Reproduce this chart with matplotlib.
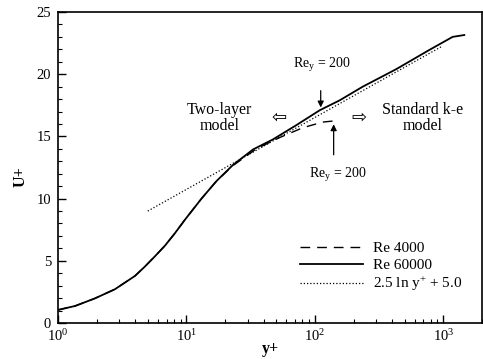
import matplotlib
matplotlib.use("Agg")
import matplotlib.pyplot as plt
from matplotlib.ticker import FixedLocator, LogLocator, NullFormatter, FixedFormatter

plt.rcParams['font.family'] = ['Liberation Serif', 'DejaVu Serif']
plt.rcParams['mathtext.fontset'] = 'custom'
plt.rcParams['mathtext.rm'] = 'Liberation Serif'
plt.rcParams['mathtext.it'] = 'Liberation Serif'

# Re 60000 (solid)
yp_60000 = [1.0, 1.36, 1.94, 2.77, 3.97, 4.74, 5.67, 6.78, 8.11, 9.7, 10.9, 13.1, 17.1,
            23.0, 33, 47, 71.6, 109, 156, 236, 429, 778, 1181, 1456]
u_60000 = [1.05, 1.37, 1.98, 2.71, 3.78, 4.53, 5.35, 6.2, 7.2, 8.28, 8.95, 10.0, 11.4,
           12.7, 13.95, 14.75, 15.9, 17.1, 17.9, 19.0, 20.4, 21.95, 23.0, 23.15]
# Re 4000 (dashed)
yp_4000 = [1.0, 1.36, 1.94, 2.77, 3.97, 4.74, 5.67, 6.78, 8.11, 9.7, 10.9, 13.1, 17.1,
           23.0, 35, 53, 80.6, 115, 146]
u_4000 = [1.05, 1.37, 1.98, 2.71, 3.78, 4.53, 5.35, 6.2, 7.2, 8.28, 8.95, 10.0, 11.4,
          12.65, 14.0, 14.9, 15.7, 16.15, 16.26]
# log law (dotted), endpoints
yp_log = [5.0, 960.0]
u_log = [9.0, 22.2]

x_ticks = [1, 10, 100, 1000]
x_labels = [r'$10^0$', r'$10^1$', r'$10^2$', r'$10^3$']
y_ticks = [0, 5, 10, 15, 20, 25]

fig = plt.figure(figsize=(4.83, 3.59), dpi=100)
ax = fig.add_axes([58/483, 1 - 323/359, (482-58)/483, (323-12)/359])

ax.plot(yp_60000, u_60000, color='black', lw=1.3, label='Re 60000', zorder=3)
ax.plot(yp_4000, u_4000, color='black', lw=1.0, ls=(0, (7, 5)), label='Re 4000', zorder=2)
ax.plot(yp_log, u_log, color='black', lw=0.9, ls=(0, (1, 1.6)), label=r'2.5 ln y$^{+}$ + 5.0', zorder=2)

ax.set_xscale('log')
ax.set_xlim(1, 2000)
ax.set_ylim(0, 25)
ax.xaxis.set_major_locator(FixedLocator(x_ticks))
ax.xaxis.set_major_formatter(FixedFormatter(x_labels))
ax.xaxis.set_minor_locator(LogLocator(base=10, subs=range(2, 10)))
ax.xaxis.set_minor_formatter(NullFormatter())
ax.yaxis.set_major_locator(FixedLocator(y_ticks))
ax.yaxis.set_minor_locator(FixedLocator(range(0, 26)))
ax.tick_params(which='major', direction='in', length=6, width=1.0, labelsize=10.5)
ax.tick_params(axis='y', which='major', pad=5)
ax.tick_params(which='minor', direction='in', length=3, width=0.8)
ax.tick_params(top=False, right=False, which='both')
for s in ax.spines.values():
    s.set_linewidth(1.2)

ax.set_xlabel('y+', fontsize=11.5, fontweight='bold', labelpad=-2)
ax.set_ylabel('U+', fontsize=11.5, fontweight='bold')
ax.yaxis.set_label_coords(-0.07, 0.47)

# annotations
ax.annotate('', xy=(111, 17.1), xytext=(111, 18.9),
            arrowprops=dict(arrowstyle='-|>', color='black', lw=0.9, mutation_scale=9))
ax.text(113, 20.7, r'Re$_y$ = 200', ha='center', va='center', fontsize=10)
ax.annotate('', xy=(140, 16.2), xytext=(140, 13.3),
            arrowprops=dict(arrowstyle='-|>', color='black', lw=0.9, mutation_scale=9))
ax.text(150, 11.9, r'Re$_y$ = 200', ha='center', va='center', fontsize=10)
ax.text(18.2, 16.5, 'Two-layer\nmodel', ha='center', va='center', fontsize=11.5, linespacing=1.0)
ax.text(690, 16.5, 'Standard k-e\nmodel', ha='center', va='center', fontsize=11.5, linespacing=1.0)
ax.text(53, 16.55, '\u21e6', ha='center', va='center', fontsize=13, family=['DejaVu Sans'])
ax.text(219, 16.55, '\u21e8', ha='center', va='center', fontsize=13, family=['DejaVu Sans'])

h, l = ax.get_legend_handles_labels()
order = [1, 0, 2]
ax.legend([h[i] for i in order], [l[i] for i in order], loc='upper left',
          bbox_to_anchor=(0.571, 0.262), frameon=False, fontsize=11, handlelength=4.1,
          labelspacing=0.2, handletextpad=0.7, borderpad=0, borderaxespad=0)

fig.savefig('out.png', dpi=100)
